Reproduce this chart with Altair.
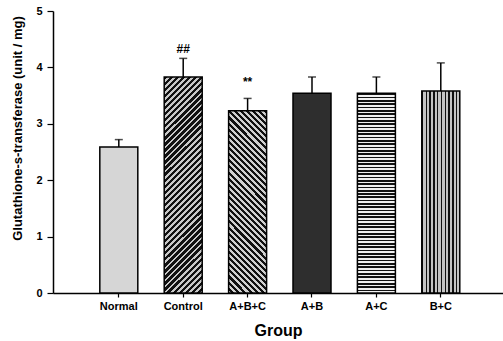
import altair as alt
import pandas as pd

groups = ["Normal", "Control", "A+B+C", "A+B", "A+C", "B+C"]
means = [2.59, 3.83, 3.23, 3.54, 3.54, 3.58]
errors = [0.13, 0.33, 0.22, 0.29, 0.29, 0.50]
ann_groups = ["Control", "A+B+C"]
ann_labels = ["##", "**"]
ann_y = [4.32, 3.74]

df = pd.DataFrame({"group": groups, "mean": means, "err": errors})
df["upper"] = df["mean"] + df["err"]
ann = pd.DataFrame({"group": ann_groups, "label": ann_labels, "y": ann_y})

FONT = "Liberation Sans"


def stripes(n, c1, c2, duty, x1, y1, x2, y2):
    stops = []
    for i in range(n):
        a = i / n
        b = (i + duty) / n
        c = (i + 1) / n
        stops += [
            {"offset": a, "color": c1},
            {"offset": b, "color": c1},
            {"offset": b, "color": c2},
            {"offset": c, "color": c2},
        ]
    return {"gradient": "linear", "x1": x1, "y1": y1, "x2": x2, "y2": y2, "stops": stops}


fills = {
    "Normal": "#d6d6d6",
    "Control": stripes(42, "#111111", "#c8c8c8", 0.55, 0, 0, 0.2, 1.141),
    "A+B+C": stripes(36, "#111111", "#d0d0d0", 0.5, 1, 0, 1 - 0.242, 1.158),
    "A+B": "#2e2e2e",
    "A+C": stripes(60, "#111111", "#f0f0f0", 0.5, 0, 0, 0, 1),
    "B+C": stripes(10, "#111111", "#c4c4c4", 0.35, 0, 0, 1, 0),
}

xscale = alt.Scale(domain=groups, paddingInner=0.41, paddingOuter=0.699, align=0.52)
yscale = alt.Scale(domain=[0, 5], nice=False)

x_enc = alt.X(
    "group:N",
    scale=xscale,
    sort=groups,
    axis=alt.Axis(
        title="Group",
        labelAngle=0,
        labelAlign="center",
        labelBaseline="top",
        labelFont=FONT,
        labelFontSize=11,
        labelFontWeight="bold",
        labelColor="black",
        labelPadding=3,
        tickSize=4,
        tickColor="black",
        tickWidth=1.2,
        domainColor="black",
        domainWidth=1.5,
        titleFont=FONT,
        titleFontSize=16,
        titleFontWeight="bold",
        titleColor="black",
        titlePadding=11,
    ),
)
y_enc = alt.Y(
    "mean:Q",
    scale=yscale,
    axis=alt.Axis(
        title="Glutathione-s-transferase (unit / mg)",
        values=[0, 1, 2, 3, 4, 5],
        format="d",
        grid=False,
        labelFont=FONT,
        labelFontSize=11,
        labelFontWeight="bold",
        labelColor="black",
        labelPadding=5,
        tickSize=6,
        tickColor="black",
        tickWidth=1.2,
        domainColor="black",
        domainWidth=1.5,
        titleFont=FONT,
        titleFontSize=13,
        titleFontWeight="bold",
        titleColor="black",
        titleX=-29,
        titleY=117,
        titleAngle=-90,
        titleAlign="center",
        titleBaseline="bottom",
    ),
)

base = alt.Chart(df)

err_rule = base.mark_rule(color="black", strokeWidth=1.5).encode(
    x=alt.X("group:N", scale=xscale, sort=groups),
    y=alt.Y("mean:Q", scale=yscale),
    y2="upper:Q",
)
err_cap = base.mark_tick(color="black", thickness=1.5, size=8).encode(
    x=alt.X("group:N", scale=xscale, sort=groups),
    y=alt.Y("upper:Q", scale=yscale),
)

bar_layers = []
for g in groups:
    bar_layers.append(
        base.transform_filter(alt.datum.group == g)
        .mark_bar(fill=fills[g], stroke="black", strokeWidth=1.5)
        .encode(x=x_enc, y=y_enc)
    )

text = alt.Chart(ann).mark_text(
    font=FONT, fontSize=12, fontWeight="bold", color="black", baseline="middle"
).encode(
    x=alt.X("group:N", scale=xscale, sort=groups),
    y=alt.Y("y:Q", scale=yscale),
    text="label:N",
)

chart = (
    alt.layer(err_rule, *bar_layers, err_cap, text)
    .properties(
        width=450,
        height=282,
        autosize=alt.AutoSizeParams(type="none"),
        padding={"left": 53, "top": 11, "right": 0, "bottom": 48},
        background="white",
    )
    .configure_view(stroke=None)
)

chart.save("out.html", embed_options={"renderer": "svg", "actions": False})
